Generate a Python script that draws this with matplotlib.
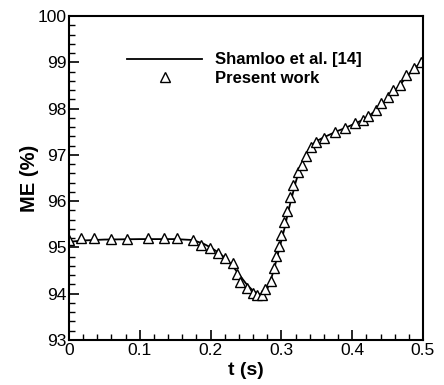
import matplotlib
matplotlib.use('Agg')
import matplotlib.pyplot as plt
from matplotlib.ticker import MultipleLocator

plt.rcParams['font.family'] = ['Liberation Sans', 'DejaVu Sans']

## reference curve (Shamloo et al.)
t_ref = [0, 0.02, 0.05, 0.1, 0.15, 0.175, 0.19, 0.2, 0.21, 0.22, 0.23, 0.24, 0.25,
         0.26, 0.27, 0.275, 0.28, 0.285, 0.29, 0.295, 0.30, 0.305, 0.31, 0.315, 0.32,
         0.325, 0.33, 0.335, 0.34, 0.345, 0.35, 0.36, 0.37, 0.38, 0.39, 0.40, 0.41,
         0.42, 0.43, 0.44, 0.45, 0.46, 0.47, 0.48, 0.49, 0.5]
me_ref = [95.12, 95.15, 95.17, 95.18, 95.18, 95.16, 95.08, 95.0, 94.9, 94.78, 94.62,
          94.42, 94.22, 94.06, 93.98, 94.0, 94.1, 94.3, 94.55, 94.85, 95.15, 95.45,
          95.8, 96.1, 96.4, 96.65, 96.85, 97.02, 97.15, 97.24, 97.3, 97.38, 97.45,
          97.52, 97.58, 97.65, 97.72, 97.8, 97.92, 98.05, 98.22, 98.38, 98.56, 98.74,
          98.9, 99.02]

## present work (triangles)
t_pw = [0.0, 0.0175, 0.036, 0.06, 0.082, 0.112, 0.134, 0.153, 0.175, 0.187, 0.199,
        0.211, 0.220, 0.232, 0.237, 0.242, 0.251, 0.260, 0.265, 0.273, 0.277, 0.285,
        0.290, 0.292, 0.297, 0.299, 0.304, 0.308, 0.312, 0.316, 0.323, 0.329, 0.335,
        0.342, 0.349, 0.360, 0.376, 0.390, 0.404, 0.415, 0.423, 0.434, 0.441, 0.450,
        0.458, 0.467, 0.476, 0.487, 0.497]
me_pw = [95.16, 95.2, 95.2, 95.19, 95.18, 95.21, 95.21, 95.21, 95.16, 95.05, 94.98,
         94.89, 94.77, 94.66, 94.43, 94.26, 94.12, 94.02, 93.97, 93.97, 94.10, 94.28,
         94.55, 94.82, 95.04, 95.27, 95.56, 95.79, 96.08, 96.34, 96.62, 96.79, 96.98,
         97.16, 97.27, 97.37, 97.49, 97.57, 97.68, 97.75, 97.85, 97.97, 98.11, 98.24,
         98.40, 98.52, 98.73, 98.88, 99.0]

fig = plt.figure(figsize=(4.44, 3.85), dpi=100)
ax = fig.add_axes([0.1554, 0.1169, 0.7973, 0.8415])

ax.plot(t_ref, me_ref, color='black', lw=1.3, label='Shamloo et al. [14]')
ax.plot(t_pw, me_pw, ls='none', marker='^', ms=7, mfc='white', mec='black',
        mew=1.0, label='Present work')

ax.set_xlim(0, 0.5)
ax.set_ylim(93, 100)
ax.xaxis.set_major_locator(MultipleLocator(0.1))
ax.xaxis.set_minor_locator(MultipleLocator(0.02))
ax.yaxis.set_major_locator(MultipleLocator(1))
ax.yaxis.set_minor_locator(MultipleLocator(0.2))
ax.xaxis.set_major_formatter(plt.FuncFormatter(lambda v, p: '%g' % round(v, 2)))
ax.tick_params(which='both', direction='in', top=False, right=False, labelsize=12.5, pad=2)
ax.tick_params(which='major', length=7, width=1.2)
ax.tick_params(which='minor', length=4, width=1.0)
for s in ax.spines.values():
    s.set_linewidth(1.5)

ax.set_xlabel('t (s)', fontsize=14, fontweight='bold', labelpad=3)
ax.set_ylabel('ME (%)', fontsize=14.5, fontweight='bold', labelpad=-1)

ax.legend(loc='center left', bbox_to_anchor=(0.164, 0.836), frameon=False,
          borderpad=0, borderaxespad=0, handlelength=4.5, handletextpad=0.8,
          labelspacing=0.2, prop={'size': 12, 'weight': 'bold'})

fig.savefig('out.png', dpi=100)
